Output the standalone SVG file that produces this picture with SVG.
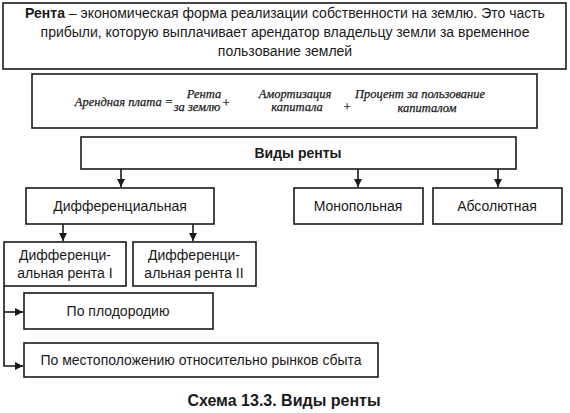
<svg xmlns="http://www.w3.org/2000/svg" width="570" height="413" viewBox="0 0 570 413">
<defs>
<marker id="ah" markerWidth="9" markerHeight="9" refX="8" refY="4.5" orient="auto" markerUnits="userSpaceOnUse">
<path d="M0,0.5 L8,4.5 L0,8.5 Z" fill="#1a1a1a"/>
</marker>
<style>
.box{fill:#fff;stroke:#1a1a1a;stroke-width:1.6}
.t{font-family:"Liberation Sans",Arial,sans-serif;font-size:14px;fill:#1a1a1a;text-anchor:middle}
.b{font-weight:bold}
.f{font-family:"Liberation Serif","Times New Roman",serif;font-style:italic;font-size:12.5px;fill:#1a1a1a;text-anchor:middle;stroke:#1a1a1a;stroke-width:0.25}
.c{fill:none;stroke:#1a1a1a;stroke-width:1.6}
</style>
</defs>
<rect width="570" height="413" fill="#fff"/>
<g id="definition">
<rect class="box" x="3" y="3" width="563" height="66"/>
<text class="t" x="285" y="18"><tspan class="b">Рента</tspan> – экономическая форма реализации собственности на землю. Это часть</text>
<text class="t" x="285" y="37">прибыли, которую выплачивает арендатор владельцу земли за временное</text>
<text class="t" x="285" y="56">пользование землей</text>
</g>
<g id="formula">
<rect class="box" x="32" y="74" width="505" height="54"/>
<text class="f" x="124" y="106">Арендная плата =</text>
<text class="f" x="204" y="98">Рента</text>
<text class="f" x="197" y="111">за землю</text>
<text class="f" x="226" y="107">+</text>
<text class="f" x="295" y="98">Амортизация</text>
<text class="f" x="297" y="111">капитала</text>
<text class="f" x="347" y="111">+</text>
<text class="f" x="420" y="98">Процент за пользование</text>
<text class="f" x="427" y="112">капиталом</text>
</g>
<g id="vidy">
<rect class="box" x="81" y="137" width="435" height="32"/>
<text class="t b" x="298" y="158">Виды ренты</text>
</g>
<g id="diff">
<rect class="box" x="26" y="188" width="188" height="36"/>
<text class="t" x="120" y="211">Дифференциальная</text>
</g>
<g id="mono">
<rect class="box" x="294" y="188" width="129" height="36"/>
<text class="t" x="358" y="211">Монопольная</text>
</g>
<g id="abs">
<rect class="box" x="433" y="188" width="129" height="36"/>
<text class="t" x="497" y="211">Абсолютная</text>
</g>
<g id="diff1">
<rect class="box" x="4" y="242" width="122" height="44"/>
<text class="t" x="65" y="260">Дифференци-</text>
<text class="t" x="65" y="278">альная рента I</text>
</g>
<g id="diff2">
<rect class="box" x="133" y="242" width="123" height="44"/>
<text class="t" x="194" y="260">Дифференци-</text>
<text class="t" x="194" y="278">альная рента II</text>
</g>
<g id="fert">
<rect class="box" x="24" y="293" width="189" height="36"/>
<text class="t" x="118" y="316">По плодородию</text>
</g>
<g id="loc">
<rect class="box" x="24" y="343" width="354" height="34"/>
<text class="t" x="201" y="365">По местоположению относительно рынков сбыта</text>
</g>
<g id="connectors">
<line class="c" x1="121" y1="169" x2="121" y2="187" marker-end="url(#ah)"/>
<line class="c" x1="358" y1="169" x2="358" y2="187" marker-end="url(#ah)"/>
<line class="c" x1="498" y1="169" x2="498" y2="187" marker-end="url(#ah)"/>
<line class="c" x1="63" y1="224" x2="63" y2="241" marker-end="url(#ah)"/>
<line class="c" x1="193" y1="224" x2="193" y2="241" marker-end="url(#ah)"/>
<polyline class="c" points="4,286 4,366 23,366" marker-end="url(#ah)"/>
<line class="c" x1="4" y1="312" x2="23" y2="312" marker-end="url(#ah)"/>
</g>
<text class="t b" x="284" y="406" style="font-size:16px">Схема 13.3. Виды ренты</text>
</svg>
